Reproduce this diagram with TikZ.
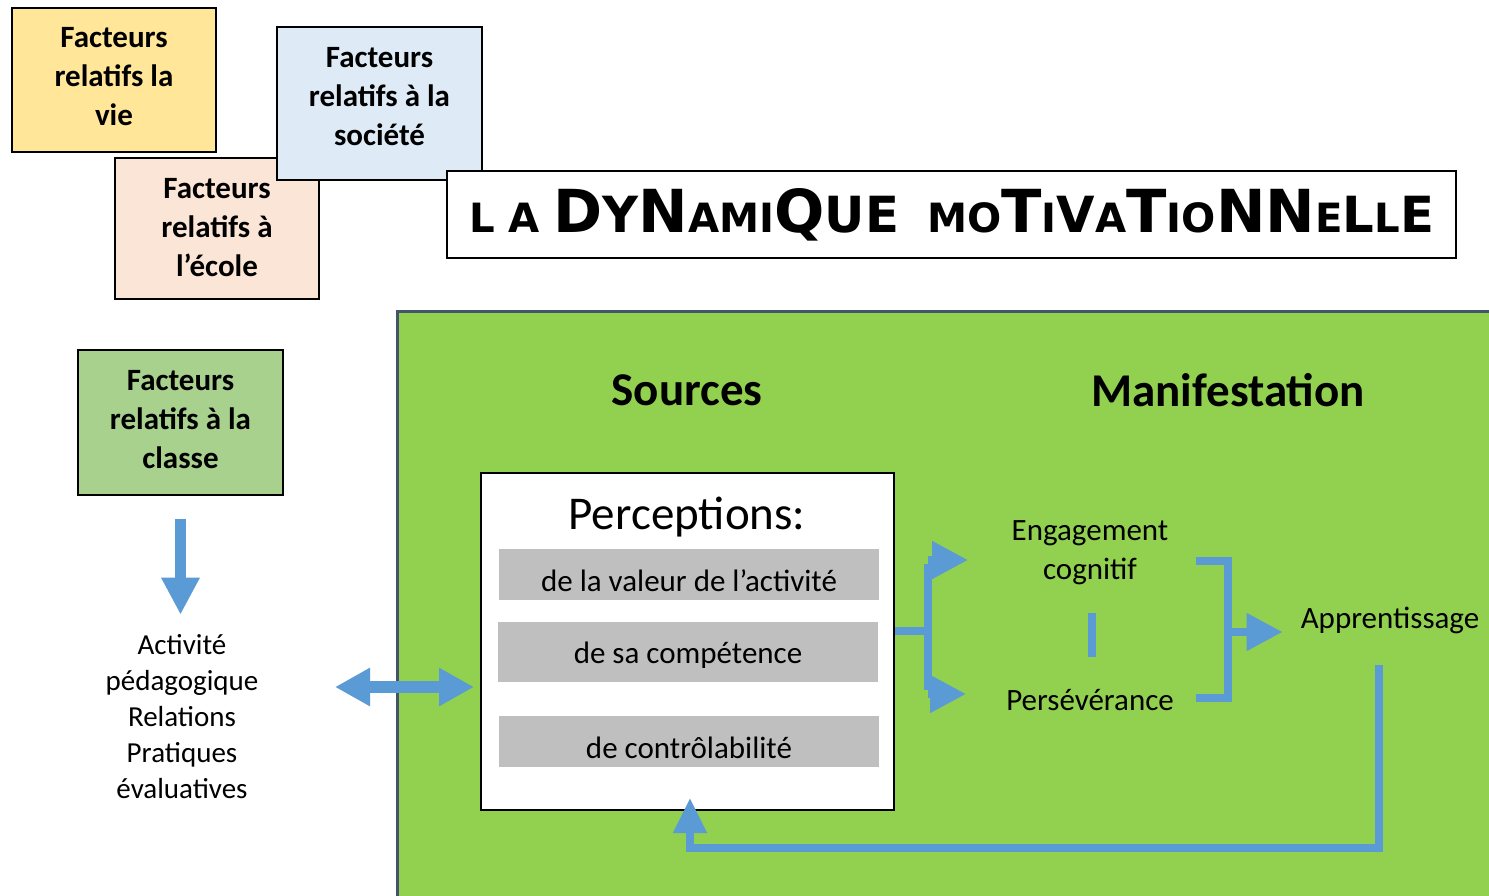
\documentclass[tikz,border=0pt]{standalone}
\usepackage{fontspec}
\usepackage{graphicx}
\setmainfont{Carlito}
\newfontfamily\titlefont{DejaVu Sans}
\usetikzlibrary{arrows.meta}
\definecolor{cblue}{HTML}{5B9BD5}
\definecolor{cgreen}{HTML}{92D050}
\definecolor{cborder}{HTML}{44546A}
\definecolor{cgray}{HTML}{BFBFBF}
\definecolor{cyellow}{HTML}{FFE699}
\definecolor{cpeach}{HTML}{FBE5D6}
\definecolor{clblue}{HTML}{DEEBF7}
\definecolor{cclasse}{HTML}{A9D18E}
\newcommand{\Bg}[1]{{\fontsize{50}{50}\selectfont #1}}
\newcommand{\Md}[1]{{\fontsize{42}{42}\selectfont #1}}
\begin{document}
\begin{tikzpicture}[x=1pt,y=-1pt,
  factbox/.style={draw=black,line width=2pt,inner sep=0pt},
  facttext/.style={inner sep=0pt,align=center,font=\fontsize{31}{39}\selectfont\bfseries},
  bodytext/.style={inner sep=0pt,align=center,font=\fontsize{31}{39}\selectfont},
  bartext/.style={fill=cgray,inner sep=0pt,minimum width=380,font=\fontsize{31}{39}\selectfont},
  headtext/.style={inner sep=0pt,font=\fontsize{47}{56}\selectfont\bfseries},
  bline/.style={draw=cblue,line width=8pt},
  barrow/.style={draw=cblue,line width=8pt,-{Triangle[length=36pt,width=36pt]}},
]
\useasboundingbox (0,0) rectangle (1489,895);
\fill[white] (0,0) rectangle (1489,895);

% factor boxes
\node[factbox,fill=cyellow,minimum width=204,minimum height=144] (vie) at (114,80) {};
\node[facttext] (vietext) at (114,77) {Facteurs\\relatifs la\\vie};
\node[factbox,fill=cpeach,minimum width=204,minimum height=141] (ecole) at (217,228.5) {};
\node[facttext] (ecoletext) at (217,228) {Facteurs\\relatifs à\\l’école};
\node[factbox,fill=clblue,minimum width=205,minimum height=153] (societe) at (379.5,103.5) {};
\node[facttext] (societetext) at (379.5,96.5) {Facteurs\\relatifs à la\\société};
\node[draw=black,line width=1.5pt,fill=white,minimum width=1009,minimum height=87,inner sep=0pt] (title) at (951.5,214.5)
  {\resizebox{965pt}{44pt}{\titlefont\bfseries\fontsize{34}{34}\selectfont L A \Bg{D}\Md{Y}\Bg{N}AMI\Bg{Q}\Md{U}\Md{E}\ \ MO\Bg{T}I\Md{V}A\Bg{T}IO\Bg{N}\Bg{N}E\Md{L}L\Md{E}}};

% green area
\draw[cborder,fill=cgreen,line width=3pt] (397,311) -- (1500,311) -- (1500,900) -- (397,900) -- cycle;

\node[factbox,fill=cclasse,minimum width=205,minimum height=145] (classe) at (180.5,422.5) {};
\node[facttext] (classetext) at (180.5,419.5) {Facteurs\\relatifs à la\\classe};
\node[bodytext,font=\fontsize{29}{36}\selectfont] (act) at (182,717)
  {Activité\\pédagogique\\Relations\\Pratiques\\évaluatives};

\node[headtext] (sources) at (687,390) {Sources};
\node[headtext] (manif) at (1228,390) {Manifestation};

% perceptions box
\node[draw=black,line width=2pt,fill=white,minimum width=413,minimum height=337,inner sep=0pt] (perc) at (687.5,641.5) {};
\node[inner sep=0pt,font=\fontsize{47}{56}\selectfont] (ptitle) at (687,517) {Perceptions:};
\node[bartext,minimum height=51,text height=33pt,text depth=0pt] (b1) at (689,574.5) {de la valeur de l’activité};
\node[bartext,minimum height=60,text height=26pt,text depth=3pt] (b2) at (688,652) {de sa compétence};
\node[bartext,minimum height=51,text height=33pt,text depth=0pt] (b3) at (689,741.5) {de contrôlabilité};

% manifestation texts
\node[bodytext] (engag) at (1090,553) {Engagement\\cognitif};
\node[bodytext] (perse) at (1090,700) {Persévérance};
\node[bodytext] (appr) at (1390,620) {Apprentissage};

% down arrow
\draw[draw=cblue,line width=11pt,-{Triangle[length=37pt,width=36pt]},shorten <=23pt,shorten >=20pt] (classe.south) -- (classe.south |- act.north);

% double arrow
\coordinate (dl) at (335,687);
\draw[draw=cblue,line width=12pt,{Triangle[length=35pt,width=36pt]}-{Triangle[length=35pt,width=36pt]}] (dl) -- ([xshift=-6pt]perc.west |- dl);

% left bracket
\coordinate (bl) at (928,631);
\coordinate (blt) at (928,560);
\coordinate (blb) at (928,694);
\draw[bline] (perc.east |- bl) -- (bl);
\draw[bline] ([yshift=-4pt]blt) -- ([yshift=4pt]blb);
\draw[barrow] (blt) -- ++(40,0);
\draw[barrow] (blb) -- ++(38,0);

% small separator
\coordinate (sep1) at (1092,613);
\coordinate (sep2) at (1092,657);
\draw[bline] (sep1) -- (sep2);

% right bracket
\coordinate (rt) at (1228,561);
\coordinate (rb) at (1228,698);
\coordinate (rm) at (1228,632);
\draw[bline] ([xshift=-32pt]rt) -- ([xshift=4pt]rt);
\draw[bline] ([xshift=-32pt]rb) -- ([xshift=4pt]rb);
\draw[bline] (rt) -- (rb);
\draw[barrow] (rm) -- ([xshift=-18pt]appr.west |- rm);

% feedback loop
\coordinate (f1) at (1379,665);
\coordinate (f2) at (1379,848);
\coordinate (f3) at (690,848);
\draw[draw=cblue,line width=8pt,-{Triangle[length=35pt,width=32pt]}] (f1) -- (f2) -- (f3) -- ([yshift=13pt]f3 |- perc.south);
\end{tikzpicture}
\end{document}
